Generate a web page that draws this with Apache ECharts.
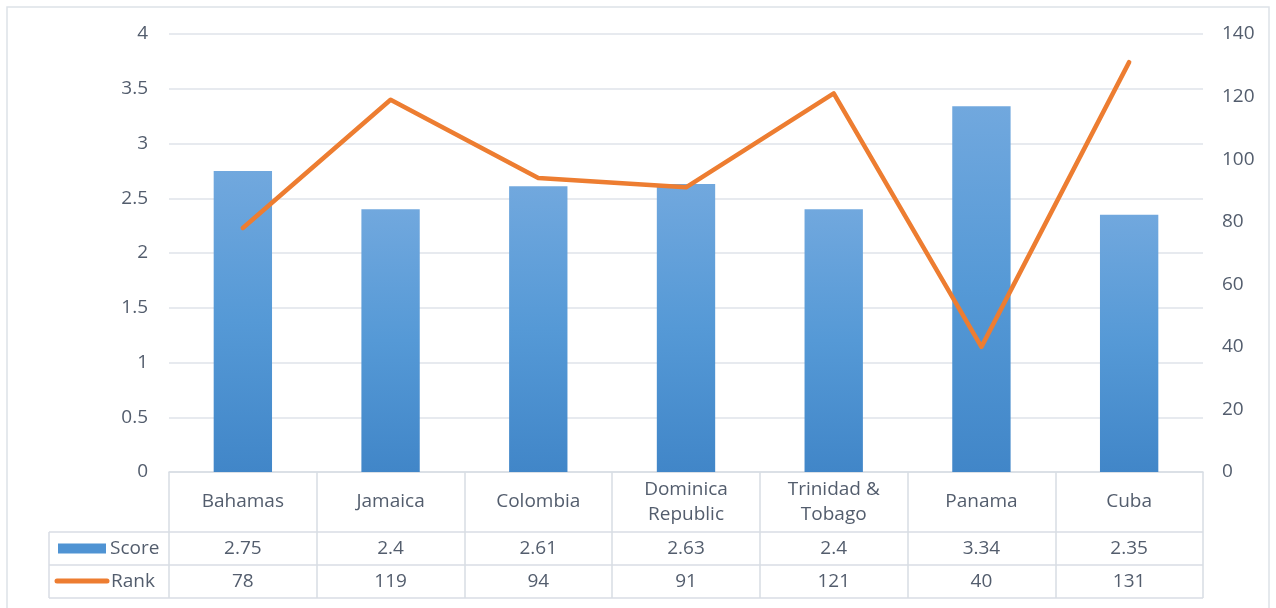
<!DOCTYPE html>
<html>
<head>
<meta charset="utf-8">
<script src="https://cdn.jsdelivr.net/npm/echarts@6/dist/echarts.min.js"></script>
<style>
  html, body { margin: 0; padding: 0; background: #fff; }
  #chart { width: 1276px; height: 608px; }
</style>
</head>
<body>
<div id="chart"></div>
<script>
// Country scores with their overall rank
const countries = ['Bahamas', 'Jamaica', 'Colombia', 'Dominica\nRepublic', 'Trinidad &\nTobago', 'Panama', 'Cuba'];
const scores = [2.75, 2.4, 2.61, 2.63, 2.4, 3.34, 2.35];
const ranks = [78, 119, 94, 91, 121, 40, 131];

const W = 1276, H = 608;
const gridL = 169, gridR = 73, gridT = 34, gridB = 136;
const plotBottom = H - gridB;          // baseline of the plot / top of data table
const catRow = 60, valRow = 33;        // table row heights
const legendLeft = 49;
const txt = '#535d6d';
const tableLine = '#d8dde4';
const font = '"Open Sans", "Noto Sans", sans-serif';
const fs = 19;

const chart = echarts.init(document.getElementById('chart'), null, { renderer: 'canvas' });

const rowY1 = plotBottom + catRow;
const rowY2 = rowY1 + valRow;
const rowY3 = rowY2 + valRow;
const tableRight = W - gridR;

function hLine(y, x1, x2) {
  return { type: 'line', shape: { x1: x1, y1: y, x2: x2, y2: y }, style: { stroke: tableLine, lineWidth: 1.5 }, silent: true };
}

const cellAxis = (data, offset, margin) => ({
  type: 'category',
  gridIndex: 0,
  position: 'bottom',
  offset: offset,
  data: data,
  axisLine: { show: false },
  axisTick: { show: false },
  axisLabel: { interval: 0, margin: margin, verticalAlign: 'middle', color: txt, fontSize: fs, fontFamily: font }
});

chart.setOption({
  backgroundColor: '#fff',
  animation: false,
  grid: { left: gridL, right: gridR, top: gridT, bottom: gridB },
  xAxis: [
    {
      type: 'category',
      data: countries,
      position: 'bottom',
      axisLine: { show: true, lineStyle: { color: tableLine, width: 1.5 } },
      axisTick: { show: true, length: catRow + 2 * valRow, lineStyle: { color: tableLine, width: 1.5 } },
      axisLabel: { interval: 0, margin: catRow / 2, verticalAlign: 'middle', lineHeight: 25, color: txt, fontSize: fs, fontFamily: font }
    },
    cellAxis(scores.map(String), catRow, valRow / 2 + 0.5),
    cellAxis(ranks.map(String), catRow + valRow, valRow / 2 + 0.5)
  ],
  yAxis: [
    {
      type: 'value', min: 0, max: 4, interval: 0.5,
      axisLine: { show: false }, axisTick: { show: false },
      axisLabel: { margin: 21, color: txt, fontSize: fs, fontFamily: font },
      splitLine: { lineStyle: { color: '#dfe3ea', width: 1.5 } }
    },
    {
      type: 'value', min: 0, max: 140, interval: 20,
      axisLine: { show: false }, axisTick: { show: false },
      axisLabel: { margin: 19, color: txt, fontSize: fs, fontFamily: font },
      splitLine: { show: false }
    }
  ],
  series: [
    {
      name: 'Score',
      type: 'bar',
      xAxisIndex: 0, yAxisIndex: 0,
      data: scores,
      barWidth: '39.5%',
      itemStyle: {
        color: new echarts.graphic.LinearGradient(0, 0, 0, 1, [
          { offset: 0, color: '#71a8de' },
          { offset: 0.5, color: '#5599d6' },
          { offset: 1, color: '#4186c8' }
        ])
      }
    },
    {
      name: 'Rank',
      type: 'line',
      xAxisIndex: 0, yAxisIndex: 1,
      data: ranks,
      symbol: 'none',
      lineStyle: { color: '#ed7d31', width: 4.5, cap: 'round', join: 'round' },
      z: 5
    }
  ],
  graphic: [
    // outer chart border (bottom edge runs off the canvas)
    { type: 'rect', shape: { x: 7, y: 7, width: W - 14, height: H + 10 }, style: { fill: 'none', stroke: '#dde2e8', lineWidth: 1.5 }, silent: true },
    // data table rows
    hLine(rowY1, legendLeft, tableRight),
    hLine(rowY2, legendLeft, tableRight),
    hLine(rowY3, legendLeft, tableRight),
    { type: 'line', shape: { x1: legendLeft, y1: rowY1, x2: legendLeft, y2: rowY3 }, style: { stroke: tableLine, lineWidth: 1.5 }, silent: true },
    // legend keys in the table
    { type: 'rect', shape: { x: 58, y: rowY1 + 11.5, width: 48, height: 10 }, style: { fill: '#4f93d3' }, silent: true },
    { type: 'text', x: 110, y: rowY1 + valRow / 2, style: { text: 'Score', fill: txt, fontSize: fs, fontFamily: font, verticalAlign: 'middle' }, silent: true },
    { type: 'line', shape: { x1: 57, y1: rowY2 + 16, x2: 107, y2: rowY2 + 16 }, style: { stroke: '#ed7d31', lineWidth: 5, lineCap: 'round' }, silent: true },
    { type: 'text', x: 111, y: rowY2 + valRow / 2, style: { text: 'Rank', fill: txt, fontSize: fs, fontFamily: font, verticalAlign: 'middle' }, silent: true }
  ]
});
</script>
</body>
</html>
